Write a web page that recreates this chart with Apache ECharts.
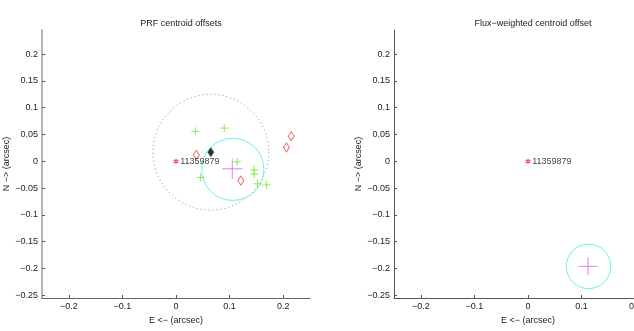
<!DOCTYPE html>
<html><head><meta charset="utf-8">
<script src="https://cdn.jsdelivr.net/npm/echarts@6/dist/echarts.min.js"></script>
<style>html,body{margin:0;padding:0;background:#fff;}#c{width:634px;height:331px;}</style>
</head><body><div id="c"></div>
<script>
// ---- data ----
const xTicks = [-0.2, -0.1, 0, 0.1, 0.2];
const yTicks = [-0.25, -0.2, -0.15, -0.1, -0.05, 0, 0.05, 0.1, 0.15, 0.2];
const targetName = '11359879';
const target = [[0, 0]];
// PRF panel
const prfGreen = [[0.036,0.056],[0.090,0.062],[0.114,-0.001],[0.046,-0.030],[0.146,-0.016],[0.146,-0.024],[0.152,-0.042],[0.169,-0.044]];
const prfRedDiamonds = [[0.038,0.012],[0.121,-0.036],[0.206,0.026],[0.215,0.047]];
const prfBlackDiamond = [[0.065,0.017]];
const prfDottedCircle = [[0.065,0.017,0.108]]; // cx, cy, r
const prfMean = [[0.105,-0.014]];
const prfCyanCircle = [[0.106,-0.015,0.058]];
// Flux-weighted panel
const fwMean = [[0.112,-0.196]];
const fwCyanCircle = [[0.113,-0.196,0.0415]];

const FONT = 'Liberation Sans, Arial, Helvetica, sans-serif';
const fmt = v => (Math.abs(v) < 1e-9 ? '0' : String(+v.toFixed(2)).replace('-', '\u2212'));

function xAx(gi, lineColor) {
  return {
    type: 'value', gridIndex: gi, min: -0.25, max: 0.25,
    name: 'E <\u2212 (arcsec)', nameLocation: 'middle', nameGap: 16,
    nameTextStyle: {fontFamily: FONT, fontSize: 9, color: '#222'},
    axisLine: {show: true, onZero: false, lineStyle: {color: lineColor, width: 1}},
    axisTick: {show: true, inside: true, length: 3, customValues: xTicks, lineStyle: {color: '#555'}},
    axisLabel: {customValues: xTicks, formatter: fmt, fontFamily: FONT, fontSize: 9, color: '#222', margin: 4},
    splitLine: {show: false}
  };
}
function yAx(gi, lineColor, lw) {
  return {
    type: 'value', gridIndex: gi, min: -0.255, max: 0.245,
    name: 'N \u2212> (arcsec)', nameLocation: 'middle', nameGap: 30, nameRotate: 90,
    nameTextStyle: {fontFamily: FONT, fontSize: 9, color: '#222'},
    axisLine: {show: true, onZero: false, lineStyle: {color: lineColor, width: lw}},
    axisTick: {show: true, inside: true, length: 3, customValues: yTicks, lineStyle: {color: '#555'}},
    axisLabel: {customValues: yTicks, formatter: fmt, fontFamily: FONT, fontSize: 9, color: '#222', margin: 4},
    splitLine: {show: false}
  };
}
const PLUS = 'path://M0,-1L0,1M-1,0L1,0';
const STAR = 'path://M0,-1L0,1M-0.87,-0.5L0.87,0.5M-0.87,0.5L0.87,-0.5';

function circleSeries(gi, data, color, dash) {
  return {
    type: 'custom', xAxisIndex: gi, yAxisIndex: gi, data: data, silent: true, clip: false,
    renderItem: function (params, api) {
      const c = api.coord([api.value(0), api.value(1)]);
      const s = api.size([api.value(2), api.value(2)]);
      return {type: 'circle', shape: {cx: c[0], cy: c[1], r: (s[0] + s[1]) / 2},
        style: {fill: 'none', stroke: color, lineWidth: 1, lineDash: dash || null}};
    }
  };
}
function targetSeries(gi) {
  return {
    type: 'scatter', xAxisIndex: gi, yAxisIndex: gi, data: target, symbol: STAR, symbolSize: 5,
    itemStyle: {color: 'rgba(0,0,0,0)', borderColor: '#f03030', borderWidth: 1.4},
    label: {show: true, formatter: targetName, position: 'right', distance: 1, fontFamily: FONT, fontSize: 9, color: '#111'}
  };
}

const option = {
  animation: false,
  backgroundColor: '#fff',
  title: [
    {text: 'PRF centroid offsets', left: 176, top: 14, textAlign: 'center',
      textStyle: {fontFamily: FONT, fontSize: 9, fontWeight: 'normal', color: '#222'}},
    {text: 'Flux\u2212weighted centroid offset', left: 528, top: 14, textAlign: 'center',
      textStyle: {fontFamily: FONT, fontSize: 9, fontWeight: 'normal', color: '#222'}}
  ],
  grid: [
    {left: 42, top: 30, width: 268, height: 268, outerBoundsMode: 'none'},
    {left: 394, top: 30, width: 268, height: 268, outerBoundsMode: 'none'}
  ],
  xAxis: [xAx(0, '#666'), xAx(1, '#555')],
  yAxis: [yAx(0, '#b4b4b4', 2), yAx(1, '#555', 1)],
  series: [
    circleSeries(0, prfDottedCircle, '#888', [1, 3]),
    circleSeries(0, prfCyanCircle, '#6ff0dc'),
    {type: 'scatter', xAxisIndex: 0, yAxisIndex: 0, data: prfGreen, symbol: PLUS, symbolSize: 8,
      itemStyle: {color: 'rgba(0,0,0,0)', borderColor: '#66ee22', borderWidth: 1}},
    {type: 'scatter', xAxisIndex: 0, yAxisIndex: 0, data: prfRedDiamonds, symbol: 'diamond', symbolSize: [6, 9],
      itemStyle: {color: 'rgba(0,0,0,0)', borderColor: '#f04040', borderWidth: 1}},
    {type: 'scatter', xAxisIndex: 0, yAxisIndex: 0, data: prfBlackDiamond, symbol: 'diamond', symbolSize: [6, 9],
      itemStyle: {color: '#000', borderColor: '#000', borderWidth: 0.5}},
    {type: 'scatter', xAxisIndex: 0, yAxisIndex: 0, data: prfMean, symbol: PLUS, symbolSize: 20,
      itemStyle: {color: 'rgba(0,0,0,0)', borderColor: '#d860e8', borderWidth: 1}},
    targetSeries(0),
    circleSeries(1, fwCyanCircle, '#6ff0dc'),
    {type: 'scatter', xAxisIndex: 1, yAxisIndex: 1, data: fwMean, symbol: PLUS, symbolSize: 18,
      itemStyle: {color: 'rgba(0,0,0,0)', borderColor: '#d860e8', borderWidth: 1}},
    targetSeries(1)
  ]
};
echarts.init(document.getElementById('c'), null, {renderer: 'canvas'}).setOption(option);
</script>
</body></html>
